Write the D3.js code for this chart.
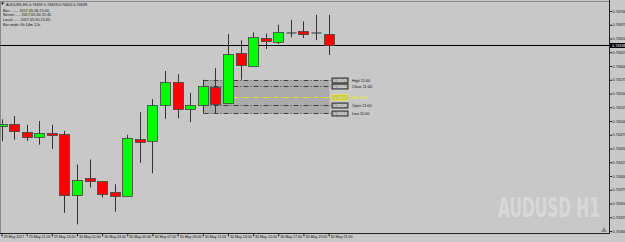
<html>
<head>
<script src="https://d3js.org/d3.v7.min.js"></script>
<style>
  body { margin: 0; background: #c8c8c8; overflow: hidden; }
  svg { display: block; }
</style>
</head>
<body>
<svg id="chart"></svg>
<script>

// hourly bars, 29 May 19:00 .. 30 May 21:00
var opens  = [0.74491, 0.74495, 0.74480, 0.74471, 0.74478, 0.74476, 0.74366, 0.74396, 0.74391, 0.74370,
              0.74363, 0.74467, 0.74463, 0.74530, 0.74570, 0.74522, 0.74529, 0.74561, 0.74532, 0.74623,
              0.74600, 0.74651, 0.74643, 0.74661, 0.74664, 0.74661, 0.74659]
var highs  = [0.74503, 0.74509, 0.74493, 0.74500, 0.74493, 0.74482, 0.74421, 0.74430, 0.74391, 0.74385,
              0.74475, 0.74516, 0.74540, 0.74591, 0.74585, 0.74551, 0.74575, 0.74596, 0.74658, 0.74647,
              0.74661, 0.74659, 0.74675, 0.74684, 0.74681, 0.74693, 0.74693]
var lows   = [0.74463, 0.74466, 0.74464, 0.74457, 0.74449, 0.74333, 0.74312, 0.74379, 0.74361, 0.74335,
              0.74363, 0.74424, 0.74405, 0.74504, 0.74505, 0.74498, 0.74514, 0.74514, 0.74531, 0.74575,
              0.74600, 0.74631, 0.74640, 0.74652, 0.74651, 0.74647, 0.74620]
var closes = [0.74494, 0.74481, 0.74470, 0.74478, 0.74475, 0.74365, 0.74393, 0.74390, 0.74368, 0.74364,
              0.74469, 0.74462, 0.74530, 0.74571, 0.74521, 0.74530, 0.74564, 0.74531, 0.74621, 0.74601,
              0.74652, 0.74646, 0.74661, 0.74661, 0.74659, 0.74661, 0.74638]

var timeLabels = ["29 May 2017", "29 May 21:00", "29 May 23:00", "30 May 01:00", "30 May 03:00",
                  "30 May 05:00", "30 May 07:00", "30 May 09:00", "30 May 11:00", "30 May 13:00",
                  "30 May 15:00", "30 May 17:00", "30 May 19:00", "30 May 21:00"]

var priceTicks = [0.74700, 0.74675, 0.74650, 0.74625, 0.74600, 0.74575, 0.74550, 0.74525, 0.74500,
                  0.74475, 0.74450, 0.74425, 0.74400, 0.74375, 0.74350, 0.74325, 0.74300]

// levels of the 11:00 bar (drawn as a box to the last bar)
var levelNames  = ["High 11:00", "Close 11:00", "Mid 11:00", "Open 11:00", "Low 11:00"]
var levelPrices = [0.74575, 0.74564, 0.745445, 0.74529, 0.74514]
var boxBar = 16

var bid = 0.74638

var infoLines = ["AUDUSD,H1  0.74659 0.74693 0.74620 0.74638",
                 "Bar:........ 2017.05.30 21:00",
                 "Server:..... 2017.05.30 21:45",
                 "Local:...... 2017.05.30 22:45",
                 "Bar ends: 0h 14m 12s"]

var width = 625
var height = 242
var plotRight = 609
var plotBottom = 233.5

var svg = d3.select("#chart")
  .attr("width", width)
  .attr("height", height)

svg.append("rect")
  .attr("width", width)
  .attr("height", height)
  .attr("fill", "#c8c8c8")

var x = d3.scaleLinear().domain([0, opens.length - 1]).range([1.5, 328.6])
var y = d3.scaleLinear().domain([0.74300, 0.74700]).range([231, 11])

function px(v) { return Math.round(v) + 0.5 }

// watermark: tall bold letters squeezed to ~102px wide
var wm = svg.append("text")
  .attr("x", 0)
  .attr("y", 0)
  .attr("transform", "translate(498,217)")
  .attr("font-family", "Liberation Sans Narrow, DejaVu Sans Condensed, sans-serif")
  .attr("font-weight", 700)
  .attr("font-size", 27)
  .attr("fill", "#d8d8d8")
  .text("AUDUSD H1")
var wmLen = wm.node().getComputedTextLength()
if (wmLen > 0) wm.attr("transform", "translate(498,217) scale(" + (102 / wmLen) + ",1)")

// frame
svg.append("line").attr("x1", 0).attr("x2", plotRight).attr("y1", 1.5).attr("y2", 1.5)
  .attr("stroke", "#8a8a8a")
svg.append("line").attr("x1", 0.5).attr("x2", 0.5).attr("y1", 1).attr("y2", plotBottom)
  .attr("stroke", "#8a8a8a")

// box for the 11:00 bar
var boxG = svg.append("g")
var xBox0 = px(x(boxBar))
var xBox1 = px(x(opens.length - 1))
boxG.append("rect")
  .attr("x", xBox0)
  .attr("y", px(y(levelPrices[0])))
  .attr("width", xBox1 - xBox0)
  .attr("height", px(y(levelPrices[4])) - px(y(levelPrices[0])))
  .attr("fill", "#ababab")

boxG.selectAll("line")
  .data(levelPrices)
  .enter()
  .append("line")
  .attr("x1", xBox0)
  .attr("x2", 331)
  .attr("y1", function(d) { return px(y(d)) })
  .attr("y2", function(d) { return px(y(d)) })
  .attr("stroke", function(d, i) { return i == 2 ? "#f0f000" : "#222" })
  .attr("stroke-width", 0.8)
  .attr("stroke-dasharray", "5,2,1,2")

var lab = boxG.selectAll("g.lab")
  .data(levelPrices)
  .enter()
  .append("g")
  .attr("class", "lab")
  .attr("transform", function(d) { return "translate(332," + px(y(d)) + ")" })

lab.append("rect")
  .attr("x", 0)
  .attr("y", -2.5)
  .attr("width", 16)
  .attr("height", 5)
  .attr("fill", function(d, i) { return i == 2 ? "#bdbd6a" : "#9a9a9a" })
  .attr("stroke", function(d, i) { return i == 2 ? "#f0f000" : "#111" })
  .attr("stroke-width", 0.8)

lab.append("text")
  .attr("x", 8)
  .attr("y", 1.3)
  .attr("text-anchor", "middle")
  .attr("font-family", "Liberation Sans, sans-serif")
  .attr("font-size", 3.6)
  .attr("fill", function(d, i) { return i == 2 ? "#ffff40" : "#fff" })
  .text(function(d) { return d3.format(".5f")(d) })

lab.append("text")
  .attr("x", 20)
  .attr("y", 1.3)
  .attr("font-family", "Liberation Sans, sans-serif")
  .attr("font-size", 3.8)
  .attr("fill", function(d, i) { return i == 2 ? "#f0f000" : "#111" })
  .text(function(d, i) { return levelNames[i] })

// bid line
svg.append("line")
  .attr("x1", 0).attr("x2", plotRight)
  .attr("y1", px(y(bid))).attr("y2", px(y(bid)))
  .attr("stroke", "#000")

// candles
var bars = svg.append("g")
  .selectAll("g")
  .data(opens)
  .enter()
  .append("g")

bars.append("line")
  .attr("x1", function(d, i) { return px(x(i)) })
  .attr("x2", function(d, i) { return px(x(i)) })
  .attr("y1", function(d, i) { return y(highs[i]) })
  .attr("y2", function(d, i) { return y(lows[i]) })
  .attr("stroke", "#333")

bars.append("rect")
  .attr("x", function(d, i) { return px(x(i)) - 5 })
  .attr("y", function(d, i) { return px(y(Math.max(opens[i], closes[i]))) })
  .attr("width", 10)
  .attr("height", function(d, i) {
    return Math.max(1, Math.abs(Math.round(y(opens[i])) - Math.round(y(closes[i]))))
  })
  .attr("fill", function(d, i) {
    if (closes[i] > opens[i]) return "#00ff00"
    if (closes[i] < opens[i]) return "#ff0000"
    return "#333"
  })
  .attr("stroke", "#444")
  .attr("stroke-width", function(d, i) { return closes[i] == opens[i] ? 0 : 0.8 })

// price axis
var yAxis = d3.axisRight(y).tickValues(priceTicks).tickFormat(d3.format(".5f")).tickSize(3)
var yg = svg.append("g")
  .attr("transform", "translate(" + plotRight + ",0)")
  .call(yAxis)
yg.select(".domain").remove()
yg.selectAll("line").attr("stroke", "#222")
yg.selectAll("text")
  .attr("x", 3.5)
  .attr("font-family", "Liberation Sans, sans-serif")
  .attr("font-size", 3.8)
  .attr("fill", "#111")

svg.append("line")
  .attr("x1", plotRight + 0.5).attr("x2", plotRight + 0.5)
  .attr("y1", 0).attr("y2", plotBottom)
  .attr("stroke", "#222")

// bid label
svg.append("rect")
  .attr("x", plotRight + 1).attr("y", px(y(bid)) - 2.5)
  .attr("width", 15).attr("height", 5)
  .attr("fill", "#000")
svg.append("text")
  .attr("x", plotRight + 3).attr("y", px(y(bid)) + 1.4)
  .attr("font-family", "Liberation Sans, sans-serif")
  .attr("font-size", 3.8)
  .attr("fill", "#fff")
  .text(d3.format(".5f")(bid))

// time axis
var xAxis = d3.axisBottom(x)
  .tickValues(d3.range(0, opens.length, 2))
  .tickFormat(function(d) { return timeLabels[d / 2] })
  .tickSize(3)
var xg = svg.append("g")
  .attr("transform", "translate(0," + plotBottom + ")")
  .call(xAxis)
xg.select(".domain").remove()
xg.selectAll("line").attr("stroke", "#222")
xg.selectAll("text")
  .attr("x", 1.5)
  .attr("y", 2)
  .attr("dy", "0.71em")
  .attr("text-anchor", "start")
  .attr("font-family", "Liberation Sans, sans-serif")
  .attr("font-size", 3.6)
  .attr("fill", "#111")

svg.append("line")
  .attr("x1", 0).attr("x2", plotRight + 1)
  .attr("y1", plotBottom).attr("y2", plotBottom)
  .attr("stroke", "#222")

// chart shift marker
svg.append("path")
  .attr("d", "M601,232 L604,227 L607,232 Z")
  .attr("fill", "#8c8c8c")

// info text top left
svg.append("path")
  .attr("d", "M1,2.5 L4,2.5 L2.5,5 Z")
  .attr("fill", "#111")
svg.selectAll("text.info")
  .data(infoLines)
  .enter()
  .append("text")
  .attr("class", "info")
  .attr("x", function(d, i) { return i == 0 ? 6 : 3 })
  .attr("y", function(d, i) { return [5.5, 11.5, 16, 20.5, 26][i] })
  .attr("font-family", "Liberation Sans, sans-serif")
  .attr("font-size", 3.8)
  .attr("fill", "#111")
  .text(function(d) { return d })

</script>
</body>
</html>
